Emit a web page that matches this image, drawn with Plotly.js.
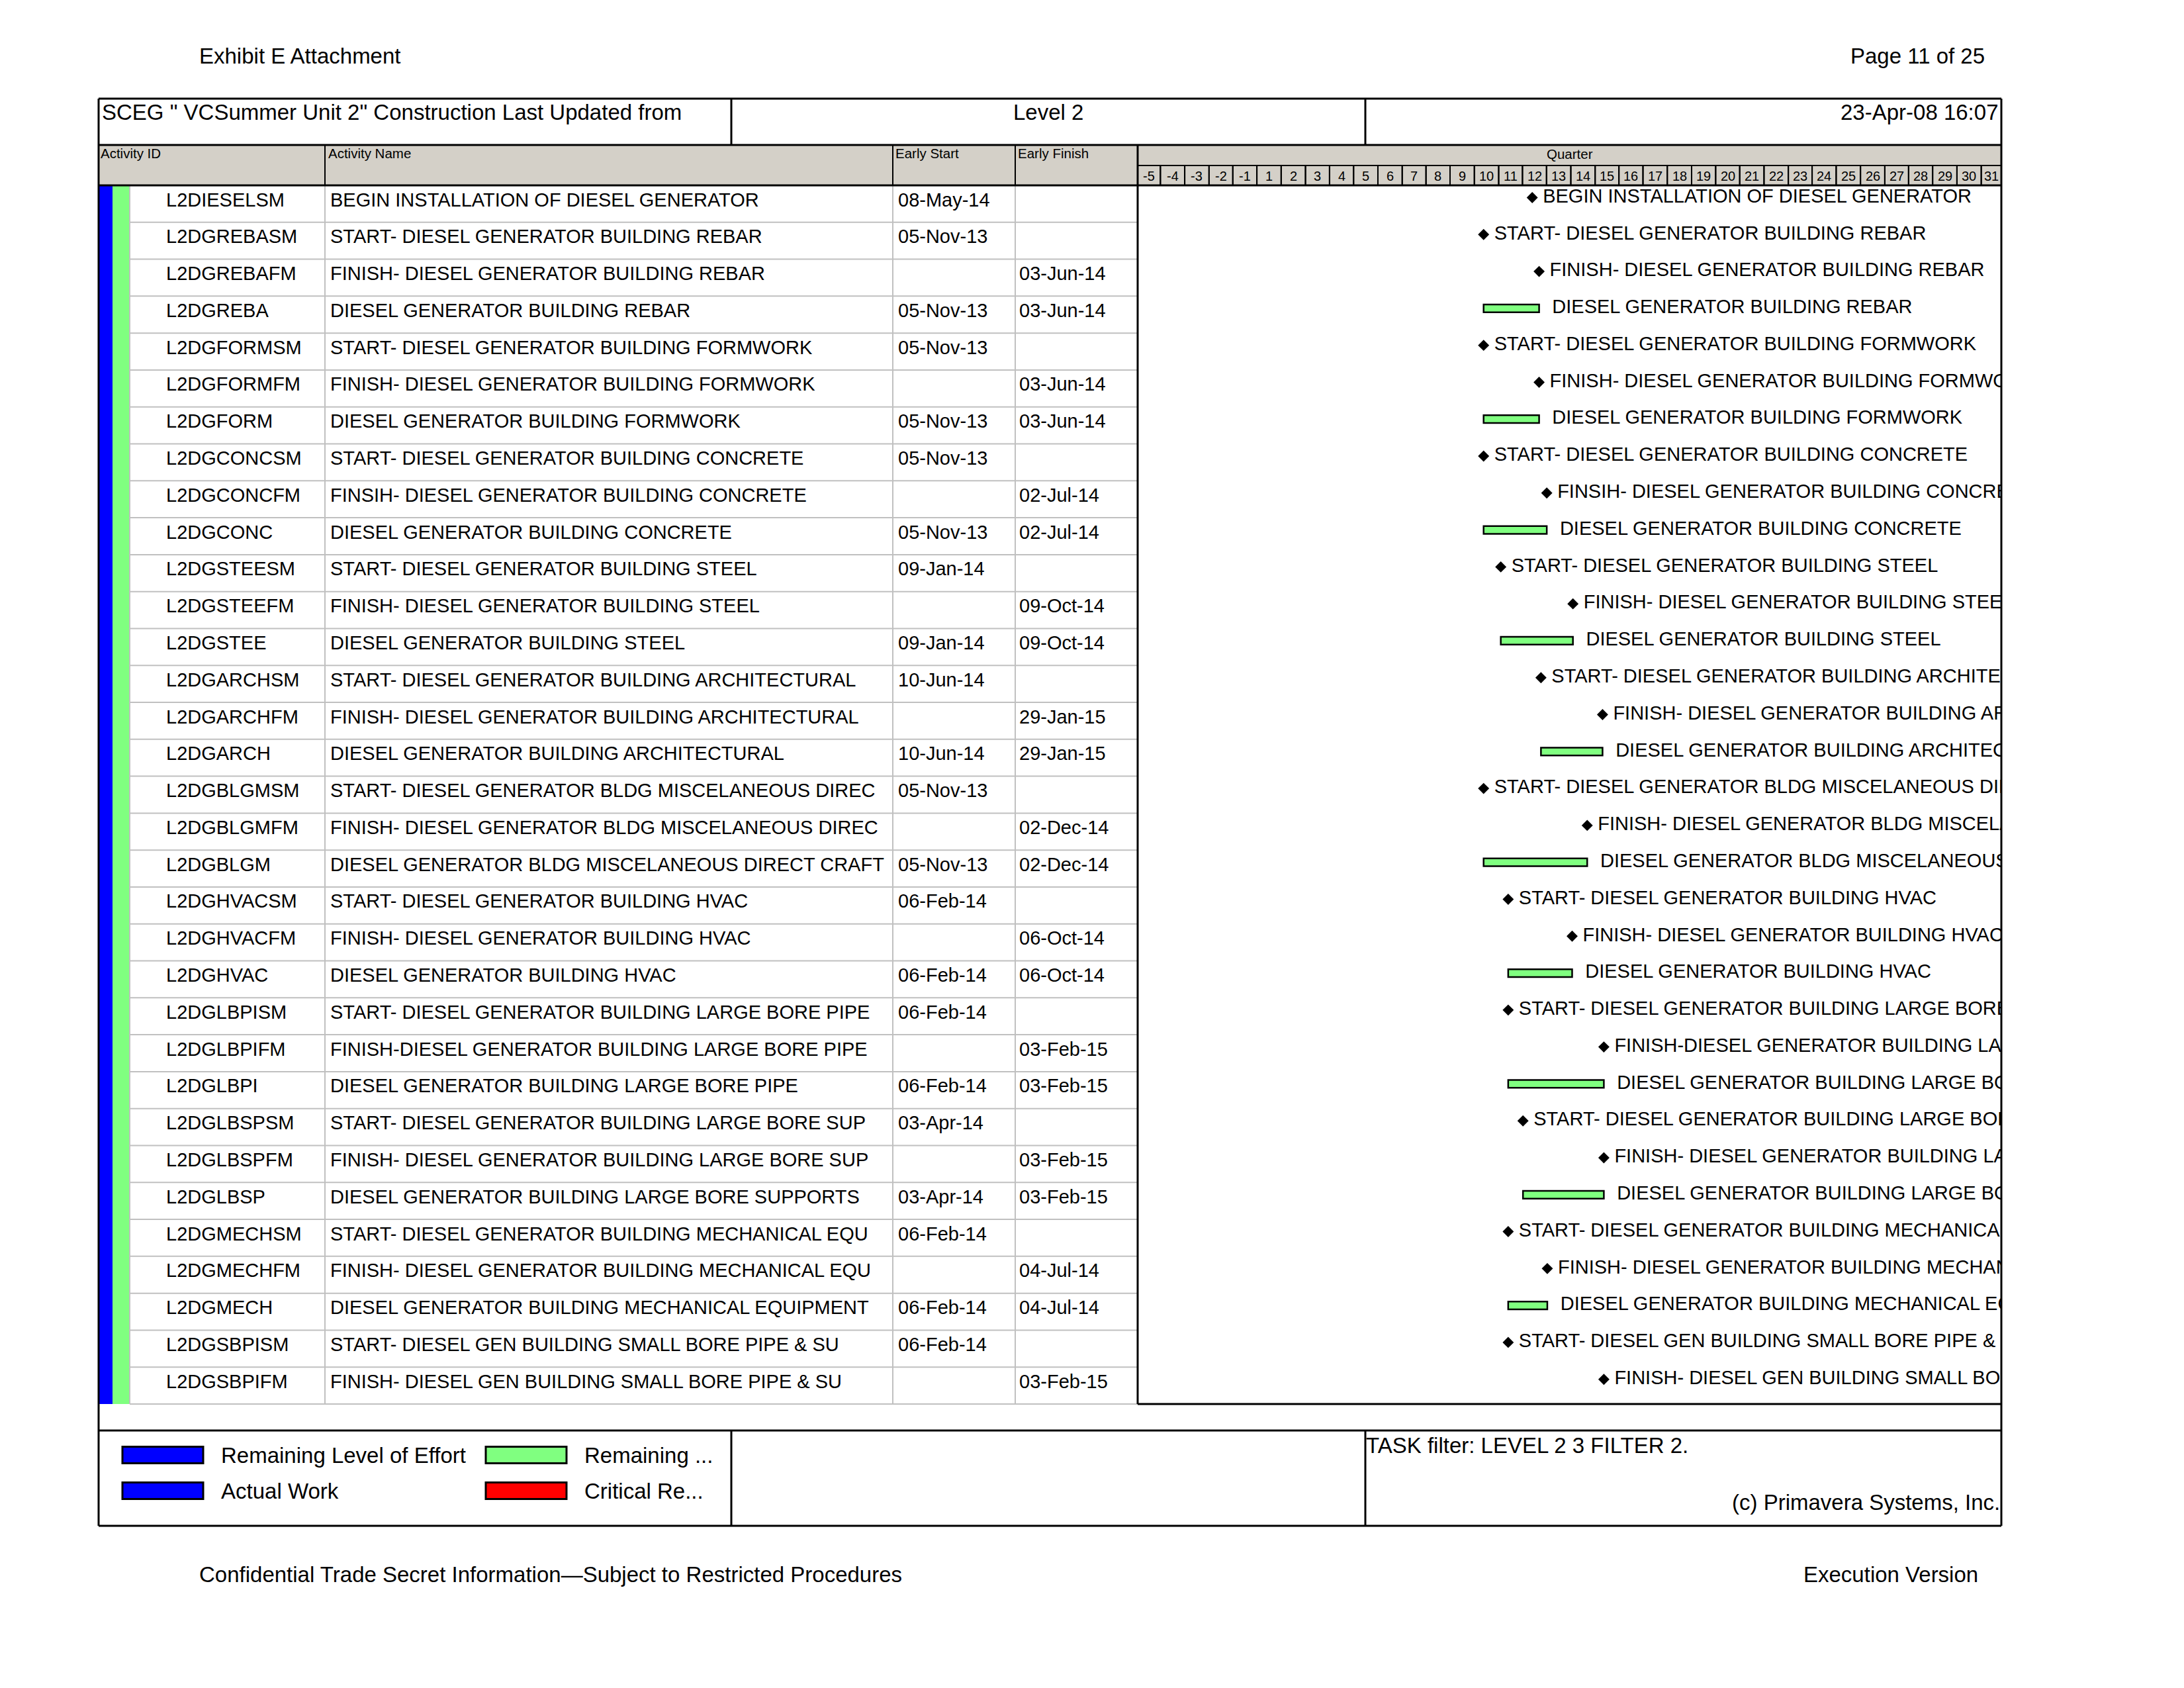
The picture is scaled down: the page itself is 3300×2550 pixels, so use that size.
<!DOCTYPE html>
<html><head><meta charset="utf-8">
<script src="https://cdn.plot.ly/plotly-3.0.1.min.js"></script>
<style>html,body{margin:0;padding:0;background:#fff}</style>
</head><body>
<div id="chart" style="width:3300px;height:2550px"></div>
<script>
// ---------------- DATA ----------------
const activityIds = ['L2DIESELSM','L2DGREBASM','L2DGREBAFM','L2DGREBA','L2DGFORMSM','L2DGFORMFM','L2DGFORM','L2DGCONCSM','L2DGCONCFM','L2DGCONC','L2DGSTEESM','L2DGSTEEFM','L2DGSTEE','L2DGARCHSM','L2DGARCHFM','L2DGARCH','L2DGBLGMSM','L2DGBLGMFM','L2DGBLGM','L2DGHVACSM','L2DGHVACFM','L2DGHVAC','L2DGLBPISM','L2DGLBPIFM','L2DGLBPI','L2DGLBSPSM','L2DGLBSPFM','L2DGLBSP','L2DGMECHSM','L2DGMECHFM','L2DGMECH','L2DGSBPISM','L2DGSBPIFM'];
const activityNames = [
'BEGIN INSTALLATION OF DIESEL GENERATOR',
'START- DIESEL GENERATOR BUILDING REBAR',
'FINISH- DIESEL GENERATOR BUILDING REBAR',
'DIESEL GENERATOR BUILDING REBAR',
'START- DIESEL GENERATOR BUILDING FORMWORK',
'FINISH- DIESEL GENERATOR BUILDING FORMWORK',
'DIESEL GENERATOR BUILDING FORMWORK',
'START- DIESEL GENERATOR BUILDING CONCRETE',
'FINSIH- DIESEL GENERATOR BUILDING CONCRETE',
'DIESEL GENERATOR BUILDING CONCRETE',
'START- DIESEL GENERATOR BUILDING STEEL',
'FINISH- DIESEL GENERATOR BUILDING STEEL',
'DIESEL GENERATOR BUILDING STEEL',
'START- DIESEL GENERATOR BUILDING ARCHITECTURAL',
'FINISH- DIESEL GENERATOR BUILDING ARCHITECTURAL',
'DIESEL GENERATOR BUILDING ARCHITECTURAL',
'START- DIESEL GENERATOR BLDG MISCELANEOUS DIREC',
'FINISH- DIESEL GENERATOR BLDG MISCELANEOUS DIREC',
'DIESEL GENERATOR BLDG MISCELANEOUS DIRECT CRAFT',
'START- DIESEL GENERATOR BUILDING HVAC',
'FINISH- DIESEL GENERATOR BUILDING HVAC',
'DIESEL GENERATOR BUILDING HVAC',
'START- DIESEL GENERATOR BUILDING LARGE BORE PIPE',
'FINISH-DIESEL GENERATOR BUILDING LARGE BORE PIPE',
'DIESEL GENERATOR BUILDING LARGE BORE PIPE',
'START- DIESEL GENERATOR BUILDING LARGE BORE SUP',
'FINISH- DIESEL GENERATOR BUILDING LARGE BORE SUP',
'DIESEL GENERATOR BUILDING LARGE BORE SUPPORTS',
'START- DIESEL GENERATOR BUILDING MECHANICAL EQU',
'FINISH- DIESEL GENERATOR BUILDING MECHANICAL EQU',
'DIESEL GENERATOR BUILDING MECHANICAL EQUIPMENT',
'START- DIESEL GEN BUILDING SMALL BORE PIPE & SU',
'FINISH- DIESEL GEN BUILDING SMALL BORE PIPE & SU'];
const earlyStart = ['08-May-14','05-Nov-13','','05-Nov-13','05-Nov-13','','05-Nov-13','05-Nov-13','','05-Nov-13','09-Jan-14','','09-Jan-14','10-Jun-14','','10-Jun-14','05-Nov-13','','05-Nov-13','06-Feb-14','','06-Feb-14','06-Feb-14','','06-Feb-14','03-Apr-14','','03-Apr-14','06-Feb-14','','06-Feb-14','06-Feb-14',''];
const earlyFinish = ['','','03-Jun-14','03-Jun-14','','03-Jun-14','03-Jun-14','','02-Jul-14','02-Jul-14','','09-Oct-14','09-Oct-14','','29-Jan-15','29-Jan-15','','02-Dec-14','02-Dec-14','','06-Oct-14','06-Oct-14','','03-Feb-15','03-Feb-15','','03-Feb-15','03-Feb-15','','04-Jul-14','04-Jul-14','','03-Feb-15'];
const quarterLabels = [-5,-4,-3,-2,-1,1,2,3,4,5,6,7,8,9,10,11,12,13,14,15,16,17,18,19,20,21,22,23,24,25,26,27,28,29,30,31];
const quarterOneStart = '2011-07-01';
const timeRange = ['2010-04-06','2019-03-18'];
const columnHeaders = ['Activity ID','Activity Name','Early Start','Early Finish'];
const legendLabels = ['Remaining Level of Effort','Actual Work','Remaining ...','Critical Re...'];
const legendColors = ['#0000ff','#0000ff','#80ff80','#ff0000'];

// ---------------- HELPERS ----------------
const W = 3300, H = 2550;
const px = x => x / W;
const py = y => 1 - y / H;
const FONT = 'Liberation Sans, Arial, sans-serif';
const MON = {Jan:0,Feb:1,Mar:2,Apr:3,May:4,Jun:5,Jul:6,Aug:7,Sep:8,Oct:9,Nov:10,Dec:11};
function parseD(s){ const p = s.split('-'); return Date.UTC(2000 + (+p[2]), MON[p[1]], +p[0]); }
function parseD2(s){ const p = s.split('-'); return Date.UTC(+p[0], +p[1]-1, +p[2]); }
function isoMs(ms){ return new Date(ms).toISOString().slice(0,19).replace('T',' '); }

const TOP = 280, BOT = 2121, NR = activityIds.length;
const rowH = (BOT - TOP) / NR;
const markOff = 18.5; // px below row top for gantt marks
const yTop = -markOff / rowH;
const TXT = 29;

// ---------------- TRACES ----------------
const bY = [], bBase = [], bLen = [];
const mX = [], mY = [];
const lX = [], lY = [], lT = [], lS = [];
for (let i = 0; i < NR; i++) {
  const s = earlyStart[i], f = earlyFinish[i];
  if (s && f) {
    bY.push(i); bBase.push(isoMs(parseD(s))); bLen.push(parseD(f) - parseD(s));
    lX.push(isoMs(parseD(f))); lY.push(i); lT.push(activityNames[i]); lS.push(30);
  } else {
    const d = isoMs(parseD(s || f));
    mX.push(d); mY.push(i);
    lX.push(d); lY.push(i); lT.push(activityNames[i]); lS.push(24);
  }
}
const traces = [
  {type:'bar', orientation:'h', y:bY, x:bLen, base:bBase, width:0.21,
   marker:{color:'#80ff80', line:{color:'#000', width:2.5}}, hoverinfo:'skip', showlegend:false},
  {type:'scatter', mode:'markers', x:mX, y:mY,
   marker:{symbol:'diamond', size:13, color:'#000'}, hoverinfo:'skip', showlegend:false},
  {type:'scatter', mode:'markers+text', x:lX, y:lY, text:lT, textposition:'middle right',
   textfont:{family:FONT, size:TXT, color:'#000'}, cliponaxis:true,
   marker:{size:lS, color:'rgba(0,0,0,0)', line:{width:0}}, hoverinfo:'skip', showlegend:false}
];

// ---------------- SHAPES ----------------
const shapes = [];
function rectP(x0,y0,x1,y1,fill,lc,lw,layer){
  shapes.push({type:'rect',xref:'paper',yref:'paper',x0:px(x0),x1:px(x1),y0:py(y1),y1:py(y0),
    fillcolor:fill,line:{color:lc||'rgba(0,0,0,0)',width:lw||0},layer:layer||'below'});
}
function lineP(x0,y0,x1,y1,c,w){
  shapes.push({type:'line',xref:'paper',yref:'paper',x0:px(x0),x1:px(x1),y0:py(y0),y1:py(y1),
    line:{color:c,width:w},layer:'above'});
}
rectP(149,219,3024,280,'#d4d0c8');
rectP(149,TOP,170,BOT,'#0000ff');
rectP(170,TOP,196,BOT,'#80ff80');
for (let k = 1; k <= NR; k++) lineP(196, TOP + k*rowH, 1719, TOP + k*rowH, '#c0c0c0', 2);
[196,491,1349,1534].forEach(x => lineP(x, TOP, x, BOT, '#c0c0c0', 2));
[491,1349,1534].forEach(x => lineP(x, 219, x, 280, '#000', 2));
lineP(1719,250,3024,250,'#000',2);
const r0 = parseD2(timeRange[0]), r1 = parseD2(timeRange[1]);
const q1d = new Date(parseD2(quarterOneStart));
const annotations = [];
quarterLabels.forEach(q => {
  const n = q > 0 ? q - 1 : q;
  const mi = q1d.getUTCFullYear()*12 + q1d.getUTCMonth() + 3*n;
  const st = Date.UTC(Math.floor(mi/12), mi%12, 1);
  const en = Date.UTC(Math.floor((mi+3)/12), (mi+3)%12, 1);
  const a = Math.max(st, r0), b = Math.min(en, r1);
  shapes.push({type:'rect',xref:'x',yref:'paper',x0:isoMs(a),x1:isoMs(b),y0:py(280),y1:py(250),
    line:{color:'#000',width:2},fillcolor:'rgba(0,0,0,0)',layer:'above'});
  annotations.push({xref:'x',yref:'paper',x:isoMs((a+b)/2),y:py(266),text:String(q),showarrow:false,
    xanchor:'center',yanchor:'middle',font:{family:FONT,size:20,color:'#000'}});
});
lineP(149,149,3024,149,'#000',3);
lineP(149,219,3024,219,'#000',3);
lineP(149,280,3024,280,'#000',3);
lineP(1719,BOT,3024,BOT,'#000',3);
lineP(149,2161,3024,2161,'#000',3);
lineP(149,2305,3024,2305,'#000',3);
lineP(149,149,149,2305,'#000',3);
lineP(3024,149,3024,2305,'#000',3);
lineP(1719,219,1719,BOT,'#000',3);
lineP(1105,149,1105,219,'#000',3);
lineP(2063,149,2063,219,'#000',3);
lineP(1105,2161,1105,2305,'#000',3);
lineP(2063,2161,2063,2305,'#000',3);

// ---------------- ANNOTATIONS ----------------
function txt(x,y,t,size,anchor){
  annotations.push({xref:'paper',yref:'paper',x:px(x),y:py(y),text:t,showarrow:false,
    xanchor:anchor||'left',yanchor:'middle',font:{family:FONT,size:size,color:'#000'}});
}
txt(299,84,'Exhibit E Attachment',33);
txt(3001,84,'Page 11 of 25',33,'right');
txt(299,2378,'Confidential Trade Secret Information\u2014Subject to Restricted Procedures',33);
txt(2991,2378,'Execution Version',33,'right');
txt(152,170,'SCEG " VCSummer Unit 2" Construction Last Updated from',33);
txt(1584,170,'Level 2',33,'center');
txt(3022,170,'23-Apr-08 16:07',33,'right');
const headerX = [150,494,1351,1536];
columnHeaders.forEach((h,c) => txt(headerX[c],232,h,20.5));
txt(2372,233,'Quarter',20.5,'center');
const colX = [249,497,1355,1538];
for (let i = 0; i < NR; i++) {
  const vals = [activityIds[i], activityNames[i], earlyStart[i], earlyFinish[i]];
  vals.forEach((v,c) => {
    if (!v) return;
    annotations.push({xref:'paper',yref:'y',x:px(colX[c]),y:i,yshift:-3,text:v,showarrow:false,
      xanchor:'left',yanchor:'middle',font:{family:FONT,size:TXT,color:'#000'}});
  });
}
const legX = [185,185,734,734], legY = [2198,2252,2198,2252];
legendLabels.forEach((l,k) => {
  rectP(legX[k], legY[k]-12.5, legX[k]+122, legY[k]+12.5, legendColors[k], '#000', 3, 'above');
  txt(legX[k]+147, legY[k], l, 33);
});
txt(2062,2183,'TASK filter: LEVEL 2 3 FILTER 2.',33);
txt(3024,2269,'(c) Primavera Systems, Inc.',33,'right');

// ---------------- LAYOUT ----------------
const layout = {
  width:W, height:H, margin:{l:0,r:0,t:0,b:0,pad:0}, autosize:false,
  paper_bgcolor:'#fff', plot_bgcolor:'rgba(0,0,0,0)', showlegend:false, hovermode:false,
  font:{family:FONT, color:'#000'},
  xaxis:{type:'date', domain:[px(1719), px(3024)], range:timeRange, visible:false, fixedrange:true},
  yaxis:{domain:[py(BOT), py(TOP)], range:[NR + yTop, yTop], visible:false, fixedrange:true},
  shapes:shapes, annotations:annotations
};
Plotly.newPlot('chart', traces, layout, {displayModeBar:false, staticPlot:true});
</script>
</body></html>
